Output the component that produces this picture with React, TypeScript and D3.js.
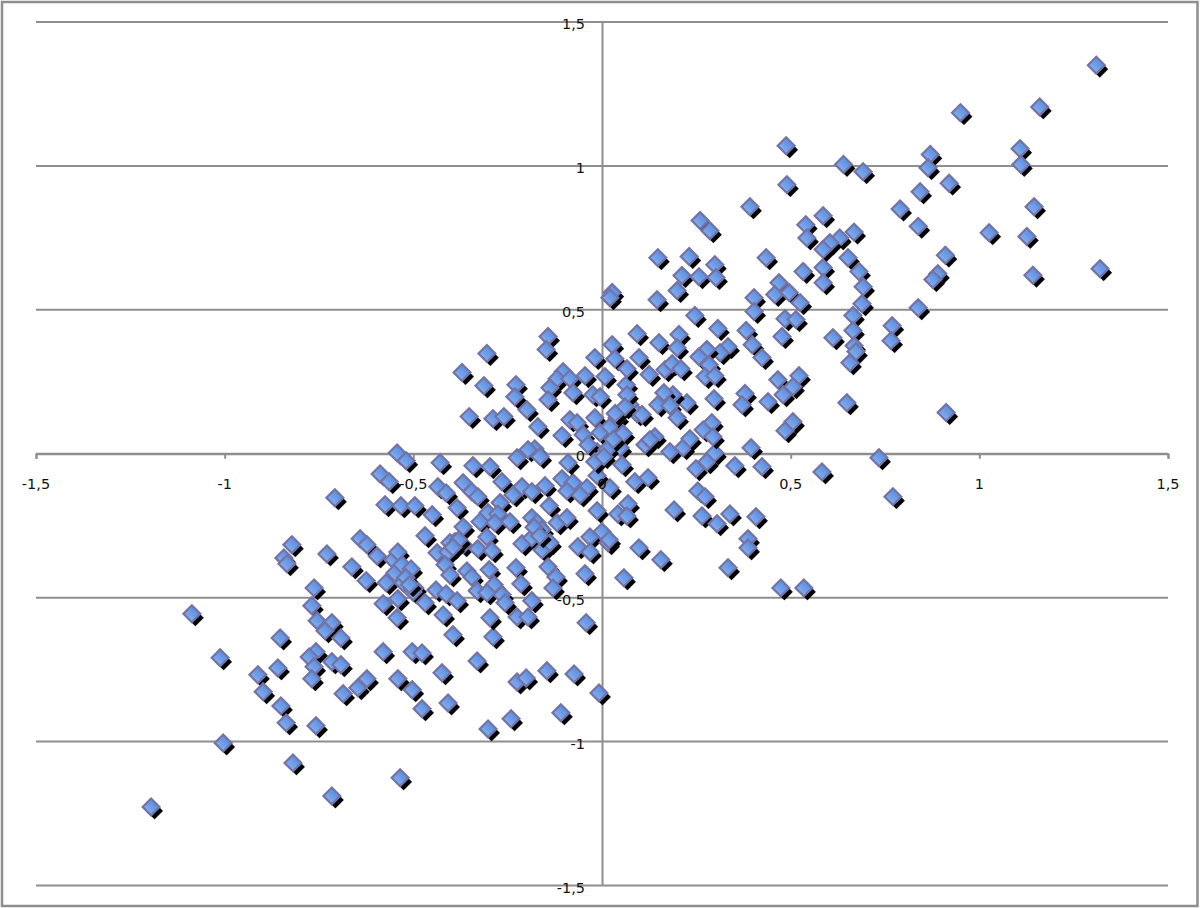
import * as d3 from "d3";
import { useEffect, useRef } from "react";

const tickValues = [-1.5, -1, -0.5, 0, 0.5, 1, 1.5];

const lowerLeft: [number, number][] = [
  [-1.195, -1.227], [-1.087, -0.556], [-1.012, -0.709], [-1.004, -1.005], [-0.912, -0.768], [-0.898, -0.827],
  [-0.859, -0.744], [-0.853, -0.64], [-0.851, -0.876], [-0.837, -0.935], [-0.819, -1.074], [-0.822, -0.316],
  [-0.843, -0.362], [-0.835, -0.382], [-0.729, -0.348], [-0.708, -0.153], [-0.763, -0.466], [-0.769, -0.528],
  [-0.755, -0.58], [-0.716, -0.587], [-0.734, -0.615], [-0.692, -0.64], [-0.758, -0.688], [-0.776, -0.706],
  [-0.763, -0.74], [-0.769, -0.782], [-0.758, -0.945], [-0.716, -0.723], [-0.692, -0.733], [-0.716, -1.189],
  [-0.686, -0.834], [-0.647, -0.813], [-0.623, -0.782], [-0.58, -0.688], [-0.641, -0.295], [-0.623, -0.316],
  [-0.663, -0.393], [-0.625, -0.441], [-0.596, -0.355], [-0.572, -0.448], [-0.554, -0.368], [-0.541, -0.341],
  [-0.549, -0.414], [-0.53, -0.386], [-0.506, -0.4], [-0.58, -0.521], [-0.527, -0.448], [-0.496, -0.466],
  [-0.501, -0.48], [-0.541, -0.504], [-0.543, -0.57], [-0.469, -0.518], [-0.44, -0.473], [-0.413, -0.487],
  [-0.384, -0.511], [-0.421, -0.56], [-0.395, -0.629], [-0.503, -0.688], [-0.477, -0.692], [-0.541, -0.782],
  [-0.503, -0.82], [-0.477, -0.886], [-0.535, -1.126], [-0.424, -0.761], [-0.408, -0.866], [-0.331, -0.72],
  [-0.302, -0.956], [-0.241, -0.921], [-0.225, -0.793], [-0.201, -0.779], [-0.146, -0.754], [-0.074, -0.765],
  [-0.109, -0.9], [-0.008, -0.831], [-0.042, -0.587], [-0.289, -0.636], [-0.297, -0.57], [-0.225, -0.567],
  [-0.196, -0.567], [-0.52, -0.43], [-0.51, -0.455],
];

const middleLeft: [number, number][] = [
  [-0.543, 0.003], [-0.519, -0.024], [-0.429, -0.031], [-0.342, -0.042], [-0.297, -0.045], [-0.588, -0.07],
  [-0.564, -0.097], [-0.435, -0.115], [-0.413, -0.136], [-0.368, -0.101], [-0.345, -0.132], [-0.329, -0.149],
  [-0.265, -0.097], [-0.212, -0.115], [-0.236, -0.143], [-0.186, -0.132], [-0.151, -0.111], [-0.575, -0.177],
  [-0.533, -0.181], [-0.496, -0.181], [-0.384, -0.188], [-0.45, -0.212], [-0.27, -0.17], [-0.14, -0.181],
  [-0.302, -0.205], [-0.276, -0.209], [-0.323, -0.236], [-0.284, -0.24], [-0.244, -0.236], [-0.368, -0.254],
  [-0.186, -0.222], [-0.172, -0.24], [-0.159, -0.264], [-0.119, -0.24], [-0.093, -0.222], [-0.469, -0.285],
  [-0.305, -0.289], [-0.39, -0.306], [-0.403, -0.309], [-0.368, -0.316], [-0.437, -0.344], [-0.408, -0.341],
  [-0.329, -0.33], [-0.292, -0.337], [-0.212, -0.313], [-0.186, -0.292], [-0.159, -0.334], [-0.138, -0.309],
  [-0.064, -0.323], [-0.032, -0.289], [0, -0.271], [-0.032, -0.341], [0.016, -0.309], [-0.416, -0.386],
  [-0.403, -0.421], [-0.358, -0.407], [-0.345, -0.428], [-0.299, -0.403], [-0.228, -0.396], [-0.143, -0.393],
  [-0.122, -0.428], [-0.045, -0.417], [-0.331, -0.476], [-0.286, -0.455], [-0.305, -0.483], [-0.265, -0.49],
  [-0.257, -0.518], [-0.215, -0.452], [-0.13, -0.466], [-0.186, -0.511], [-0.38, -0.3], [-0.395, -0.325],
  [-0.18, -0.255], [-0.165, -0.285],
];

const centre: [number, number][] = [
  [-0.178, 0.017], [-0.196, 0.014], [-0.164, -0.01], [-0.225, -0.014], [-0.106, -0.087], [-0.077, -0.101],
  [-0.093, -0.129], [-0.04, -0.118], [-0.058, -0.143], [-0.09, -0.031], [-0.013, 0.007], [-0.013, -0.076],
  [-0.013, -0.198], [-0.17, 0.094], [-0.085, 0.118], [-0.066, 0.108], [-0.106, 0.063], [-0.05, 0.066],
  [-0.019, 0.125], [-0.005, 0.073], [0.021, 0.094], [0.04, 0.125], [0.056, 0.07], [0.074, 0.17],
  [0.093, 0.139], [0.114, 0.031], [0.14, 0.059], [-0.037, 0.031], [0.048, 0.021], [0.013, 0.014],
  [-0.019, -0.028], [0.053, -0.038], [0.021, -0.118], [0.087, -0.097], [0.122, -0.083], [0.069, -0.174],
  [0.042, -0.209], [0.066, -0.216], [0.019, -0.299], [0.098, -0.327], [0.156, -0.368], [0.058, -0.431],
  [0.191, -0.195], [0.254, -0.129], [0.273, -0.149], [0.249, -0.052], [0.278, -0.028], [0.299, 0.003],
  [0.265, -0.216], [0.305, -0.243], [0.339, -0.209], [0.408, -0.219], [0.387, -0.295], [0.387, -0.327],
  [0.334, -0.396], [0.474, -0.466], [0.535, -0.466], [0.395, 0.021], [0.352, -0.042], [0.424, -0.045],
  [0.583, -0.063], [0.18, 0.007], [0.215, 0.021], [0.771, -0.149], [0.734, -0.014], [0.03, 0.05],
  [0.005, -0.01], [0.035, 0.14],
];

const upperCentre: [number, number][] = [
  [-0.103, 0.285], [-0.119, 0.261], [-0.085, 0.261], [-0.045, 0.271], [0.008, 0.268], [0.064, 0.24],
  [-0.138, 0.229], [-0.228, 0.24], [-0.313, 0.236], [-0.077, 0.212], [-0.024, 0.205], [-0.005, 0.198],
  [-0.143, 0.188], [-0.231, 0.198], [0.066, 0.205], [-0.199, 0.153], [0.061, 0.163], [-0.289, 0.122],
  [-0.26, 0.129], [-0.352, 0.129], [-0.371, 0.282], [-0.143, 0.407], [-0.148, 0.362], [-0.305, 0.348],
  [-0.019, 0.334], [0.027, 0.379], [0.034, 0.33], [0.066, 0.295], [0.093, 0.417], [0.098, 0.334],
  [0.151, 0.386], [0.027, 0.56], [0.021, 0.542], [0.106, 0.136],
];

const upperRight: [number, number][] = [
  [0.148, 0.681], [0.231, 0.685], [0.435, 0.681], [0.299, 0.657], [0.212, 0.619], [0.257, 0.615],
  [0.302, 0.612], [0.199, 0.567], [0.146, 0.535], [0.533, 0.633], [0.586, 0.647], [0.586, 0.594],
  [0.469, 0.594], [0.458, 0.553], [0.496, 0.56], [0.403, 0.542], [0.403, 0.494], [0.525, 0.525],
  [0.246, 0.48], [0.652, 0.681], [0.681, 0.633], [0.692, 0.58], [0.689, 0.521], [0.665, 0.48],
  [0.665, 0.428], [0.668, 0.375], [0.673, 0.355], [0.657, 0.316], [0.612, 0.403], [0.485, 0.469],
  [0.514, 0.466], [0.477, 0.407], [0.307, 0.435], [0.382, 0.428], [0.398, 0.379], [0.424, 0.334],
  [0.334, 0.372], [0.313, 0.351], [0.278, 0.362], [0.257, 0.337], [0.204, 0.414], [0.199, 0.368],
  [0.167, 0.292], [0.186, 0.313], [0.209, 0.295], [0.125, 0.275], [0.284, 0.309], [0.273, 0.268],
  [0.299, 0.271], [0.466, 0.257], [0.522, 0.271], [0.506, 0.233], [0.48, 0.205], [0.44, 0.181],
  [0.379, 0.209], [0.371, 0.17], [0.297, 0.191], [0.225, 0.177], [0.188, 0.205], [0.164, 0.212],
  [0.148, 0.17], [0.18, 0.167], [0.199, 0.125], [0.649, 0.177], [0.506, 0.111], [0.485, 0.08],
  [0.291, 0.108], [0.268, 0.083], [0.294, 0.059], [0.233, 0.052], [0.127, 0.049],
];

const topRight: [number, number][] = [
  [1.31, 1.35], [1.16, 1.205], [0.95, 1.185], [0.488, 1.07], [1.108, 1.06], [0.87, 1.04],
  [0.64, 1.005], [1.11, 1.005], [0.864, 0.994], [0.692, 0.98], [0.49, 0.935], [0.92, 0.94],
  [0.843, 0.91], [0.392, 0.858], [1.145, 0.858], [0.79, 0.85], [0.586, 0.827], [0.54, 0.796],
  [0.26, 0.81], [0.838, 0.79], [0.286, 0.775], [0.668, 0.77], [1.026, 0.768], [1.126, 0.755],
  [0.543, 0.75], [0.63, 0.75], [0.604, 0.733], [0.586, 0.71], [0.91, 0.69], [1.32, 0.643],
  [1.142, 0.62], [0.89, 0.625], [0.877, 0.605], [0.838, 0.507], [0.769, 0.445], [0.766, 0.393],
  [0.912, 0.143],
];

const points = [...lowerLeft, ...middleLeft, ...centre, ...upperCentre, ...upperRight, ...topRight];

const formatTick = (v: number) => String(v).replace(".", ",");

export default function App() {
  const ref = useRef<SVGSVGElement>(null);

  useEffect(() => {
    const width = 1200;
    const height = 908;
    const grey = "#8e8e8e";

    const svg = d3.select(ref.current);
    svg.selectAll("*").remove();

    const x = d3.scaleLinear().domain([-1.5, 1.5]).range([36, 1168]);
    const y = d3.scaleLinear().domain([-1.5, 1.5]).range([885.5, 22]);

    const defs = svg.append("defs");
    const grad = defs.append("linearGradient")
      .attr("id", "markerFill")
      .attr("x1", 0).attr("y1", 0).attr("x2", 0).attr("y2", 1);
    grad.append("stop").attr("offset", "0%").attr("stop-color", "#5a8ee0");
    grad.append("stop").attr("offset", "100%").attr("stop-color", "#82adee");
    defs.append("filter").attr("id", "soft")
      .append("feGaussianBlur").attr("stdDeviation", 0.7);

    svg.append("rect")
      .attr("x", 2).attr("y", 2)
      .attr("width", width - 4.5).attr("height", height - 4)
      .attr("fill", "#fff")
      .attr("stroke", grey).attr("stroke-width", 2.5);

    // horizontal grid lines and the two zero axes
    svg.append("g").selectAll("line")
      .data(tickValues)
      .enter()
      .append("line")
      .attr("x1", x(-1.5)).attr("x2", x(1.5))
      .attr("y1", d => y(d)).attr("y2", d => y(d))
      .attr("stroke", grey).attr("stroke-width", 2);

    const xAxis = svg.append("g")
      .attr("transform", `translate(0,${y(0)})`)
      .call(d3.axisBottom(x).tickValues(tickValues).tickSizeOuter(0).tickSize(5).tickFormat(() => ""));
    const yAxis = svg.append("g")
      .attr("transform", `translate(${x(0)},0)`)
      .call(d3.axisLeft(y).tickValues(tickValues).tickSizeOuter(0).tickSize(0).tickFormat(() => ""));
    [xAxis, yAxis].forEach(a => {
      a.selectAll("path,line").attr("stroke", grey).attr("stroke-width", 2);
    });

    const diamond = d3.symbol(d3.symbolSquare, 142)();
    const marks = svg.append("g").selectAll("g")
      .data(points)
      .enter()
      .append("g")
      .attr("transform", d => `translate(${x(d[0])},${y(d[1])})`);

    marks.append("path")
      .attr("d", diamond)
      .attr("transform", "translate(3.5,4) rotate(45)")
      .attr("fill", "#000")
      .attr("filter", "url(#soft)");

    marks.append("path")
      .attr("d", diamond)
      .attr("transform", "rotate(45)")
      .attr("fill", "url(#markerFill)")
      .attr("stroke", "#7373a6")
      .attr("stroke-width", 2.2);

    // tick labels sit on top of the markers
    const labels = svg.append("g")
      .attr("font-family", "'DejaVu Sans', sans-serif")
      .attr("font-size", 14.5)
      .attr("fill", "#111");

    labels.selectAll("text.x")
      .data(tickValues)
      .enter()
      .append("text")
      .attr("class", "x")
      .attr("x", d => x(d))
      .attr("y", y(0) + 35)
      .attr("text-anchor", "middle")
      .text(formatTick);

    labels.selectAll("text.y")
      .data(tickValues)
      .enter()
      .append("text")
      .attr("class", "y")
      .attr("x", x(0) - 17)
      .attr("y", d => y(d) + 7)
      .attr("text-anchor", "end")
      .text(formatTick);
  }, []);

  return (
    <svg
      ref={ref}
      width={1200}
      height={908}
      style={{ position: "fixed", left: 0, top: 0, background: "#fff" }}
    />
  );
}
